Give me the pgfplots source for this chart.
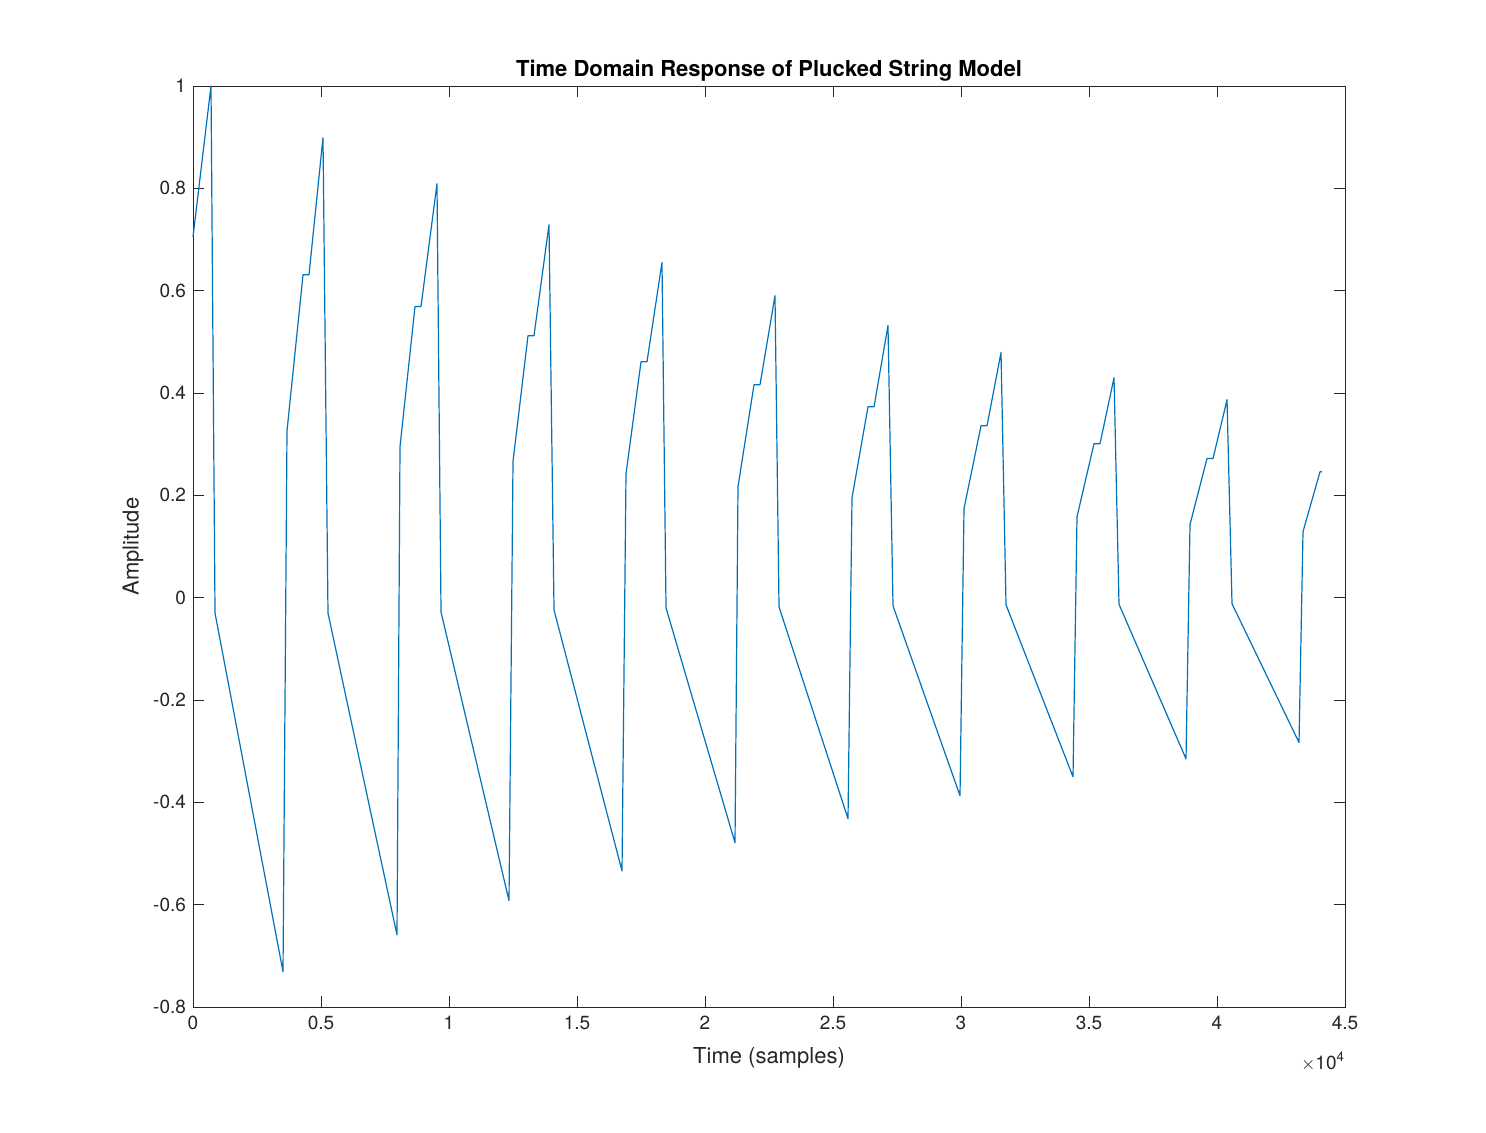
\documentclass[border=0pt]{standalone}
\usepackage{fontspec}
\setmainfont{TeX Gyre Heros}
\usepackage{pgfplots}
\pgfplotsset{compat=1.18}
\definecolor{mlblue}{rgb}{0,0.447,0.741}
\definecolor{axgray}{rgb}{0.15,0.15,0.15}
\begin{document}
\begin{tikzpicture}
\useasboundingbox (0,0) rectangle (743pt,566pt);
\begin{axis}[
  at={(96.5pt,62.5pt)}, anchor=south west,
  scale only axis, width=576pt, height=460.5pt,
  xmin=0, xmax=45000, ymin=-0.8, ymax=1,
  xtick={0,5000,10000,15000,20000,25000,30000,35000,40000,45000},
  xticklabels={0,0.5,1,1.5,2,2.5,3,3.5,4,4.5},
  scaled x ticks=false,
  ytick={-0.8,-0.6,-0.4,-0.2,0,0.2,0.4,0.6,0.8,1},
  yticklabels={-0.8,-0.6,-0.4,-0.2,0,0.2,0.4,0.6,0.8,1},
  tick align=inside, tick pos=both,
  major tick length=5.5pt,
  axis line style={axgray, line width=0.4pt},
  every tick/.style={axgray, line width=0.4pt},
  tick label style={font=\fontsize{9.5}{11}\selectfont, text=axgray},
  xticklabel style={yshift=-1pt},
  /pgf/number format/assume math mode=true,
  title={\bfseries Time Domain Response of Plucked String Model},
  title style={font=\fontsize{11}{13}\selectfont, yshift=-7pt},
  xlabel={Time (samples)},
  ylabel={Amplitude},
  label style={font=\fontsize{11}{13}\selectfont, text=axgray},
  xlabel style={yshift=-2pt},
  ylabel style={yshift=-2pt},
  clip=false,
]
\addplot[mlblue, line width=0.6pt, line join=round] coordinates {
(0,0.705) (703,1.000) (860,-0.030)
(3516,-0.731) (3672,0.326) (4297,0.631) (4531,0.631) (5078,0.899) (5273,-0.030)
(7969,-0.659) (8086,0.295) (8672,0.569) (8906,0.569) (9531,0.809) (9688,-0.028)
(12344,-0.592) (12500,0.266) (13086,0.512) (13320,0.512) (13906,0.729) (14102,-0.024)
(16758,-0.534) (16914,0.242) (17500,0.461) (17734,0.461) (18320,0.655) (18477,-0.020)
(21172,-0.479) (21289,0.217) (21914,0.416) (22148,0.416) (22734,0.590) (22891,-0.018)
(25586,-0.432) (25742,0.195) (26367,0.373) (26602,0.373) (27148,0.532) (27344,-0.016)
(29961,-0.387) (30117,0.174) (30781,0.336) (31016,0.336) (31563,0.479) (31758,-0.014)
(34375,-0.350) (34531,0.158) (35195,0.301) (35430,0.301) (35977,0.430) (36172,-0.013)
(38789,-0.315) (38945,0.143) (39609,0.272) (39844,0.272) (40391,0.387) (40586,-0.012)
(43203,-0.283) (43359,0.129) (44023,0.246) (44100,0.246)
};
\node[anchor=north, font=\fontsize{9.5}{11}\selectfont, text=axgray] at (rel axis cs:1,0) [xshift=-11pt, yshift=-19pt] {$\times$10\textsuperscript{4}};
\end{axis}
\end{tikzpicture}
\end{document}
